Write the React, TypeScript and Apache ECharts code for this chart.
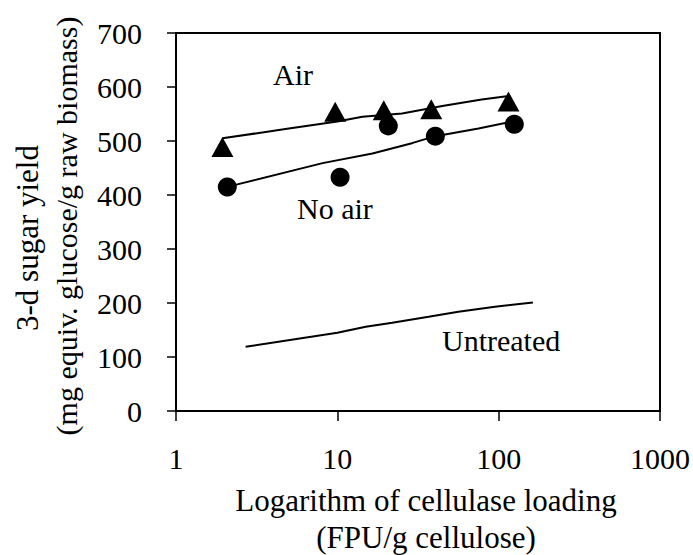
import React, { useEffect, useRef } from "react";
import * as echarts from "echarts";

// Measured data points
const airX = [1.94, 9.7, 19.4, 38.2, 115];
const airY = [489, 554, 557, 559, 573];
const noAirX = [2.08, 10.4, 20.7, 40.5, 125];
const noAirY = [415, 433, 528, 509, 531];

// Model curves
const airModelX = [1.94, 5, 10, 14.3, 25.2, 44.7, 78.5, 112];
const airModelY = [505, 523, 536, 545, 551, 565, 577, 583];
const noAirModelX = [2.08, 8.1, 16.5, 29, 40.5, 75, 125];
const noAirModelY = [415, 459, 477, 496, 509, 523, 537];
const untreatedX = [2.7, 10, 15, 21.9, 36.8, 56.3, 94.9, 163];
const untreatedY = [119, 145, 156, 163.5, 174.6, 184, 193, 201];

const yTicks = [0, 100, 200, 300, 400, 500, 600, 700];

const FONT = "'Liberation Serif', 'Times New Roman', serif";

const zip = (xs: number[], ys: number[]) => xs.map((x, i) => [x, ys[i]]);

export default function App() {
  const ref = useRef<HTMLDivElement>(null);
  useEffect(() => {
    if (!ref.current) return;
    const chart = echarts.init(ref.current, null, { renderer: "svg" });
    const lineStyle = { color: "#000", width: 2 };
    const labelStyle = {
      fontSize: 30,
      color: "#000",
      fontFamily: FONT,
      fontWeight: "normal" as const,
      fontStyle: "normal" as const,
    };
    chart.setOption({
      animation: false,
      backgroundColor: "#fff",
      textStyle: { fontFamily: FONT, fontSize: 30, color: "#000" },
      grid: {
        left: 176,
        right: 31,
        top: 33,
        bottom: 144,
        show: true,
        borderColor: "#000",
        borderWidth: 2,
        backgroundColor: "transparent",
      },
      xAxis: {
        type: "log",
        logBase: 10,
        min: 1,
        max: 1000,
        axisLine: { show: true, lineStyle: { color: "#000", width: 2 } },
        axisTick: { show: true, length: 10, lineStyle: { color: "#000", width: 1.5 } },
        minorTick: { show: false },
        splitLine: { show: false },
        axisLabel: {
          ...labelStyle,
          margin: 32,
          formatter: (v: number) => String(Math.round(v)),
        },
      },
      yAxis: {
        type: "value",
        min: yTicks[0],
        max: yTicks[yTicks.length - 1],
        interval: 100,
        axisLine: { show: true, lineStyle: { color: "#000", width: 2 } },
        axisTick: { show: true, length: 9, lineStyle: { color: "#000", width: 1.5 } },
        splitLine: { show: false },
        axisLabel: {
          ...labelStyle,
          margin: 34,
          formatter: (v: number) => String(v),
        },
      },
      series: [
        {
          type: "line",
          data: zip(airModelX, airModelY),
          showSymbol: false,
          lineStyle,
          itemStyle: { color: "#000" },
        },
        {
          type: "line",
          data: zip(noAirModelX, noAirModelY),
          showSymbol: false,
          lineStyle,
          itemStyle: { color: "#000" },
        },
        {
          type: "line",
          data: zip(untreatedX, untreatedY),
          showSymbol: false,
          lineStyle,
          itemStyle: { color: "#000" },
        },
        {
          type: "scatter",
          data: zip(airX, airY),
          symbol: "triangle",
          symbolSize: [22, 20],
          itemStyle: { color: "#000", opacity: 1 },
        },
        {
          type: "scatter",
          data: zip(noAirX, noAirY),
          symbol: "circle",
          symbolSize: 19,
          itemStyle: { color: "#000", opacity: 1 },
        },
      ],
      graphic: [
        {
          type: "text",
          x: 273,
          y: 74,
          style: {
            text: "Air",
            font: `30px ${FONT}`,
            fill: "#000",
            align: "left",
            verticalAlign: "middle",
          },
        },
        {
          type: "text",
          x: 297,
          y: 208,
          style: {
            text: "No air",
            font: `30px ${FONT}`,
            fill: "#000",
            align: "left",
            verticalAlign: "middle",
          },
        },
        {
          type: "text",
          x: 442,
          y: 340,
          style: {
            text: "Untreated",
            font: `30px ${FONT}`,
            fill: "#000",
            align: "left",
            verticalAlign: "middle",
          },
        },
        {
          type: "text",
          x: 426,
          y: 500,
          style: {
            text: "Logarithm of cellulase loading",
            font: `31px ${FONT}`,
            fill: "#000",
            align: "center",
            verticalAlign: "middle",
          },
        },
        {
          type: "text",
          x: 426,
          y: 537,
          style: {
            text: "(FPU/g cellulose)",
            font: `31px ${FONT}`,
            fill: "#000",
            align: "center",
            verticalAlign: "middle",
          },
        },
        {
          type: "text",
          x: 27,
          y: 238,
          rotation: Math.PI / 2,
          style: {
            text: "3-d sugar yield",
            font: `31px ${FONT}`,
            fill: "#000",
            align: "center",
            verticalAlign: "middle",
          },
        },
        {
          type: "text",
          x: 66,
          y: 226,
          rotation: Math.PI / 2,
          style: {
            text: "(mg equiv. glucose/g raw biomass)",
            font: `30px ${FONT}`,
            fill: "#000",
            align: "center",
            verticalAlign: "middle",
          },
        },
      ],
    });
    return () => chart.dispose();
  }, []);
  return (
    <div
      ref={ref}
      style={{ position: "fixed", left: 0, top: 0, width: 693, height: 555 }}
    />
  );
}
